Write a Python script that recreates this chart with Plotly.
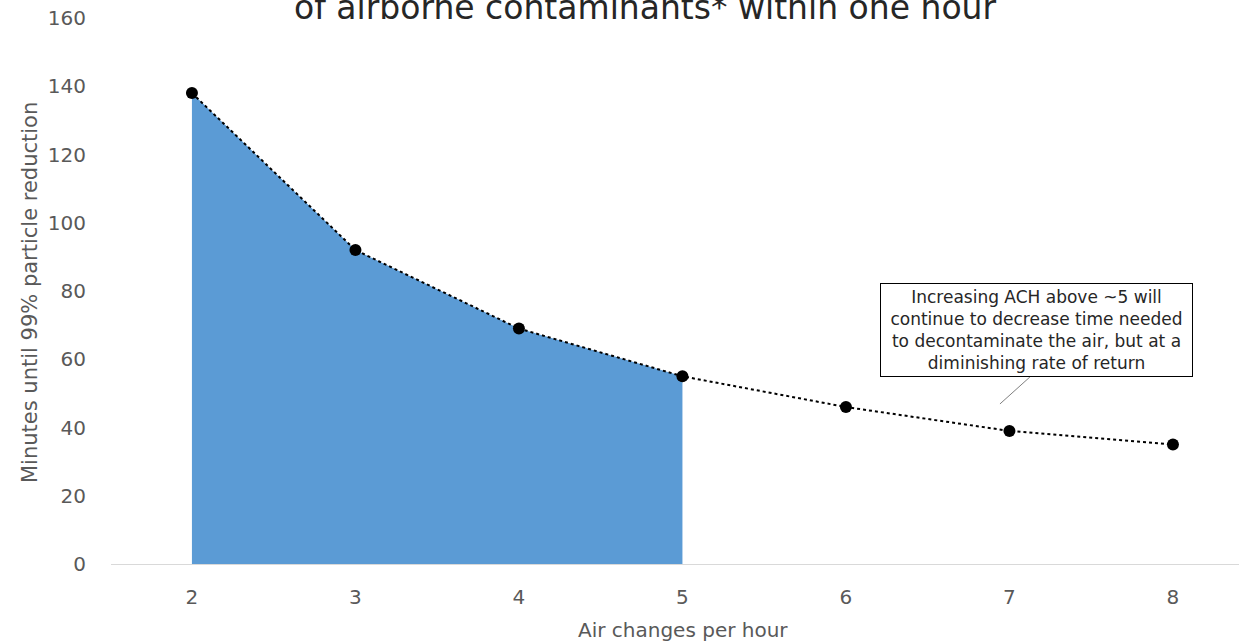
import plotly.graph_objects as go

ach = [2, 3, 4, 5, 6, 7, 8]
minutes = [138, 92, 69, 55, 46, 39, 35]
fill_ach = [2, 3, 4, 5]
fill_minutes = [138, 92, 69, 55]

title_text = "of airborne contaminants* within one hour"
x_title = "Air changes per hour"
y_title = "Minutes until 99% particle reduction"
note_text = ("Increasing ACH above ~5 will<br>continue to decrease time needed<br>"
             "to decontaminate the air, but at a<br>diminishing rate of return")

FONT = "DejaVu Sans"
GREY = "#595959"

fig = go.Figure()
fig.add_trace(go.Scatter(x=fill_ach, y=fill_minutes, mode="none", fill="tozeroy",
                         fillcolor="#5B9BD5", hoverinfo="skip", showlegend=False))
fig.add_trace(go.Scatter(x=ach, y=minutes, mode="lines+markers",
                         line=dict(color="black", width=2, dash="dot"),
                         marker=dict(color="black", size=12), showlegend=False))

W, H = 1239, 644
L, R, T, B = 111, 0, 18, 80
pw, ph = W - L - R, H - T - B

fig.update_layout(
    width=W, height=H,
    margin=dict(l=L, r=R, t=T, b=B),
    plot_bgcolor="white", paper_bgcolor="white",
    font=dict(family=FONT, color=GREY, size=20),
    xaxis=dict(range=[1.505, 8.404], tickvals=ach, showgrid=False, zeroline=False,
               showline=True, linecolor="#D9D9D9", linewidth=1, ticks="",
               ticklabelstandoff=15, tickfont=dict(size=20, color=GREY)),
    yaxis=dict(range=[0, 160], dtick=20, showgrid=False, zeroline=False, showline=False,
               ticks="", ticklabelstandoff=24, tickfont=dict(size=20, color=GREY)),
    annotations=[
        dict(text=title_text, xref="paper", yref="paper", x=(645 - L) / pw, y=1,
             xanchor="center", yanchor="bottom", yshift=-11, showarrow=False,
             font=dict(size=33, color="#262626", family=FONT)),
        dict(text=x_title, xref="paper", yref="paper", x=(683 - L) / pw, y=0,
             xanchor="center", yanchor="middle", yshift=-(630 - 564), showarrow=False,
             font=dict(size=20, color=GREY, family=FONT)),
        dict(text=y_title, xref="paper", yref="paper", x=(30 - L) / pw,
             y=(564 - 293) / ph, xanchor="center", yanchor="middle", textangle=-90,
             showarrow=False, font=dict(size=21, color=GREY, family=FONT)),
        dict(text=note_text, xref="x", yref="y", x=7.165, y=68.6, showarrow=False,
             width=309, height=90, borderpad=1, bordercolor="black", borderwidth=1,
             bgcolor="white", align="center",
             font=dict(size=17, color="#262626", family=FONT)),
    ],
    shapes=[dict(type="line", xref="x", yref="y", x0=6.942, y0=46.9, x1=7.125, y1=54.8,
                 line=dict(color="#7F7F7F", width=1))],
)

fig.write_html("out.html", config={"displayModeBar": False},
               post_script="document.body.style.margin='0';")
